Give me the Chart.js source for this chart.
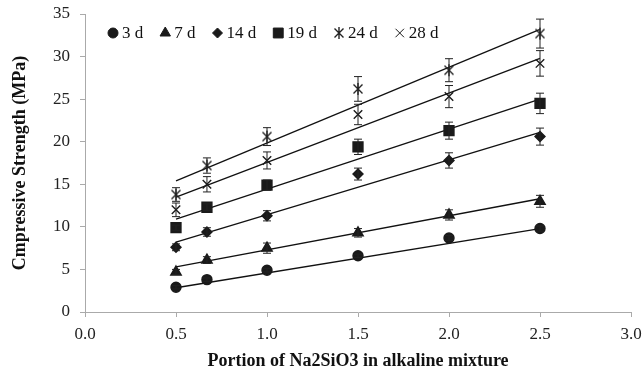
<!DOCTYPE html>
<html>
<head>
<meta charset="utf-8">
<script src="https://cdn.jsdelivr.net/npm/chart.js@4"></script>
<style>
  html, body { margin: 0; padding: 0; background: #fff; }
  #wrap { width: 643px; height: 374px; }
</style>
</head>
<body>
<div id="wrap"><canvas id="grafico" width="643" height="374"></canvas></div>
<script>
// valores
var portions = [0.5, 0.67, 1.0, 1.5, 2.0, 2.5];
var seriesNames = ['3 d', '7 d', '14 d', '19 d', '24 d', '28 d'];

var str3 = [2.9, 3.8, 4.9, 6.6, 8.7, 9.8];
var str7 = [4.7, 6.1, 7.5, 9.3, 11.4, 13.0];
var str14 = [7.6, 9.4, 11.3, 16.2, 17.8, 20.6];
var str19 = [9.9, 12.3, 14.9, 19.4, 21.3, 24.5];
var str24 = [13.8, 17.2, 20.6, 26.2, 28.4, 32.7];
var str28 = [12.0, 15.0, 17.8, 23.2, 25.3, 29.2];

var err3 = [0.2, 0.2, 0.2, 0.2, 0.3, 0.3];
var err7 = [0.3, 0.4, 0.6, 0.5, 0.6, 0.7];
var err14 = [0.4, 0.5, 0.6, 0.7, 0.9, 1.0];
var err19 = [0.3, 0.4, 0.6, 0.9, 1.0, 1.2];
var err24 = [0.8, 0.9, 1.05, 1.45, 1.35, 1.7];
var err28 = [0.8, 0.9, 1.0, 1.2, 1.3, 1.5];

// linhas de tendência (extremos lidos em x = 0.5 e x = 2.5)
var trendX = [0.5, 2.5];
var trend3 = [2.85, 9.8];
var trend7 = [5.3, 13.3];
var trend14 = [8.2, 21.1];
var trend19 = [10.9, 25.0];
var trend24 = [15.4, 33.2];
var trend28 = [13.5, 29.8];

var xTicks = [0, 0.5, 1, 1.5, 2, 2.5, 3];

function fazerAsterisco(r) {
	var c = document.createElement('canvas');
	c.width = 2 * r + 2;
	c.height = 2 * r + 2;
	var g = c.getContext('2d');
	g.strokeStyle = '#222';
	g.lineWidth = 1.4;
	var m = r + 1;
	var d = r * 0.75;
	g.beginPath();
	g.moveTo(m - d, m - d); g.lineTo(m + d, m + d);
	g.moveTo(m + d, m - d); g.lineTo(m - d, m + d);
	g.moveTo(m, m - r); g.lineTo(m, m + r);
	g.stroke();
	return c;
}

var asterisco = fazerAsterisco(6);

var estilos = [
	{ pointStyle: 'circle', radius: 5 },
	{ pointStyle: 'triangle', radius: 6 },
	{ pointStyle: 'rectRot', radius: 5 },
	{ pointStyle: 'rect', radius: 7 },
	{ pointStyle: asterisco, radius: 6 },
	{ pointStyle: 'crossRot', radius: 6 }
];

var valores = [str3, str7, str14, str19, str24, str28];
var erros = [err3, err7, err14, err19, err24, err28];
var tendencias = [trend3, trend7, trend14, trend19, trend24, trend28];

function pontos(xs, ys) {
	var p = [];
	for (var i = 0; i < xs.length; i++) {
		p.push({ x: xs[i], y: ys[i] });
	}
	return p;
}

var datasets = [];
for (var i = 0; i < tendencias.length; i++) {
	datasets.push({
		type: 'line',
		label: 'tend' + i,
		data: pontos(trendX, tendencias[i]),
		borderColor: '#111',
		borderWidth: 1.3,
		pointRadius: 0,
		fill: false,
		order: 2
	});
}
for (var i = 0; i < valores.length; i++) {
	datasets.push({
		type: 'scatter',
		label: seriesNames[i],
		data: pontos(portions, valores[i]),
		erro: erros[i],
		pointStyle: estilos[i].pointStyle,
		pointRadius: estilos[i].radius,
		backgroundColor: '#1a1a1a',
		borderColor: '#1a1a1a',
		borderWidth: 1.4,
		order: 1
	});
}

var barrasErro = {
	id: 'barrasErro',
	afterDatasetsDraw: function (chart) {
		var ctx = chart.ctx;
		var sx = chart.scales.x;
		var sy = chart.scales.y;
		ctx.save();
		ctx.strokeStyle = '#222';
		ctx.lineWidth = 1;
		chart.data.datasets.forEach(function (ds) {
			if (!ds.erro) return;
			ds.data.forEach(function (p, k) {
				var px = sx.getPixelForValue(p.x);
				var top = sy.getPixelForValue(p.y + ds.erro[k]);
				var bot = sy.getPixelForValue(p.y - ds.erro[k]);
				ctx.beginPath();
				ctx.moveTo(px, top); ctx.lineTo(px, bot);
				ctx.moveTo(px - 4, top); ctx.lineTo(px + 4, top);
				ctx.moveTo(px - 4, bot); ctx.lineTo(px + 4, bot);
				ctx.stroke();
			});
		});
		ctx.restore();
	}
};

var legenda = {
	id: 'legenda',
	afterDraw: function (chart) {
		var ctx = chart.ctx;
		var area = chart.chartArea;
		var x = area.left + 23;
		var y = area.top + 19;
		ctx.save();
		ctx.font = '17px "Liberation Serif"';
		ctx.textBaseline = 'middle';
		ctx.fillStyle = '#1a1a1a';
		ctx.strokeStyle = '#1a1a1a';
		for (var i = 0; i < seriesNames.length; i++) {
			var e = estilos[i];
			Chart.helpers.drawPoint(ctx, {
				pointStyle: e.pointStyle,
				radius: e.radius,
				borderWidth: 1.4
			}, x + 5, y);
			ctx.fillStyle = '#111';
			ctx.fillText(seriesNames[i], x + 14, y + 1);
			ctx.fillStyle = '#1a1a1a';
			x += 14 + ctx.measureText(seriesNames[i]).width + 17;
		}
		ctx.restore();
	}
};

var canvas = document.getElementById('grafico');
var grafico = new Chart(canvas, {
	type: 'scatter',
	data: { datasets: datasets },
	options: {
		responsive: false,
		animation: false,
		layout: { padding: { top: 14, right: 12, left: 0, bottom: 0 } },
		plugins: {
			legend: { display: false },
			tooltip: { enabled: false }
		},
		scales: {
			x: {
				type: 'linear',
				min: 0,
				max: 3,
				afterBuildTicks: function (s) {
					s.ticks = xTicks.map(function (v) { return { value: v }; });
				},
				afterFit: function (s) {
					s.height = 62;
					s.paddingLeft = 0;
					s.paddingRight = 0;
				},
				grid: {
					drawOnChartArea: false,
					drawTicks: true,
					tickLength: 5,
					color: '#aaa'
				},
				border: { color: '#aaa', width: 1 },
				ticks: {
					color: '#222',
					padding: 7,
					font: { family: 'Liberation Serif', size: 17 },
					callback: function (v) { return Number(v).toFixed(1); }
				},
				title: {
					display: true,
					text: 'Portion of Na2SiO3 in alkaline mixture',
					color: '#111',
					padding: { top: 0, bottom: 2 },
					font: { family: 'Liberation Serif', size: 18, weight: 'bold' }
				}
			},
			y: {
				min: 0,
				max: 35,
				afterFit: function (s) {
					s.width = 85;
					s.paddingTop = 0;
					s.paddingBottom = 0;
				},
				grid: {
					drawOnChartArea: false,
					drawTicks: true,
					tickLength: 5,
					color: '#aaa'
				},
				border: { color: '#aaa', width: 1 },
				ticks: {
					stepSize: 5,
					color: '#222',
					padding: 10,
					font: { family: 'Liberation Serif', size: 17 }
				},
				title: {
					display: true,
					text: 'Cmpressive Strength (MPa)',
					color: '#111',
					padding: { top: 10, bottom: 0 },
					font: { family: 'Liberation Serif', size: 18, weight: 'bold' }
				}
			}
		}
	},
	plugins: [barrasErro, legenda]
});
</script>
</body>
</html>
